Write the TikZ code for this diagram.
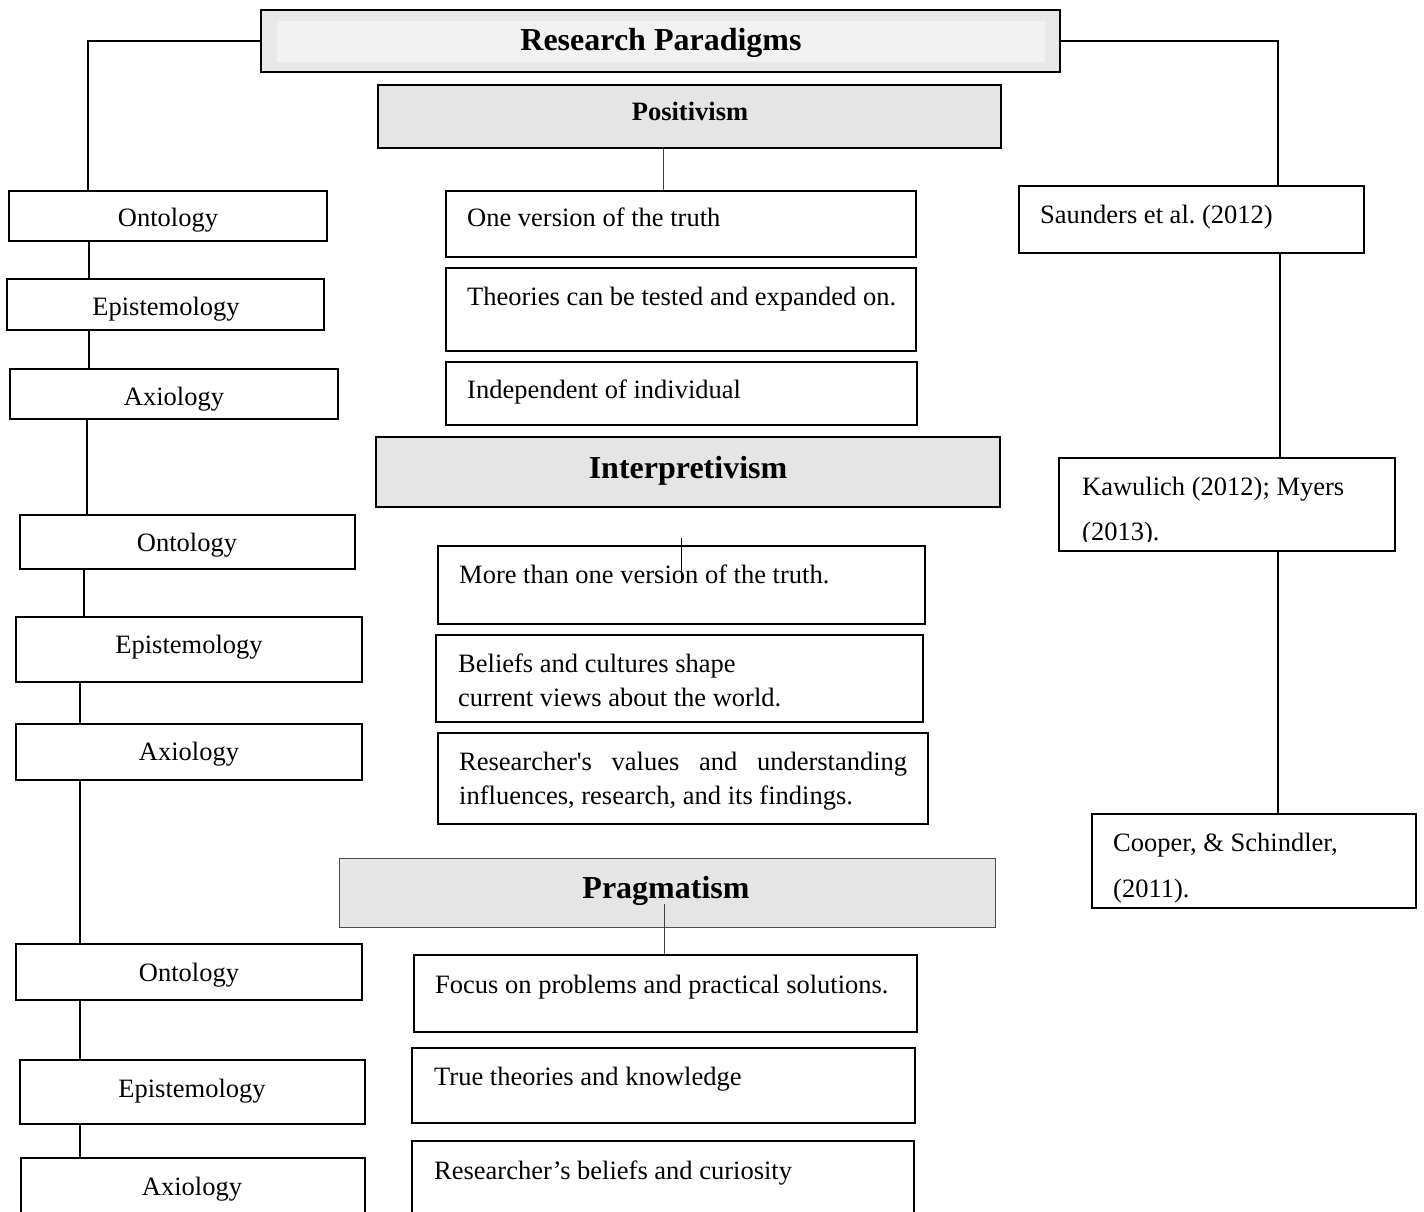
\documentclass[tikz,border=0pt]{standalone}
\usepackage{fontspec}
\setmainfont{Liberation Serif}
\usetikzlibrary{fit}
\begin{document}
\begin{tikzpicture}[
  x=1pt, y=-1pt,
  box/.style={draw=black, line width=1.8pt, fill=white, inner sep=0pt},
  headbox/.style={box, fill=black!10},
  conn/.style={line width=1.8pt},
  thinconn/.style={line width=1pt, draw=black!75},
  txt/.style={inner sep=0pt, yshift=-6pt, font=\fontsize{26.5}{34}\selectfont},
  lbl/.style={txt, anchor=mid},
  ltxt/.style={txt, anchor=mid west},
  bighead/.style={inner sep=0pt, anchor=mid, yshift=-7.5pt, font=\fontsize{32}{38}\selectfont\bfseries},
  smallhead/.style={inner sep=0pt, anchor=mid, yshift=-6.5pt, font=\fontsize{26.5}{32}\selectfont\bfseries},
]
\useasboundingbox[fill=white] (0,0) rectangle (1424,1212);

% column positions of the vertical connectors
\coordinate (lxa) at (88,0);
\coordinate (lxb) at (89,0);
\coordinate (lxc) at (87,0);
\coordinate (lxd) at (84,0);
\coordinate (lxe) at (80,0);
\coordinate (rxa) at (1278,0);
\coordinate (rxb) at (1280,0);

% title
\node[box, line width=2.6pt, fill=black!9, fit={(261,10)(1060,72)}] (title) {};
\node[inner sep=0pt, fill=black!5, minimum width=768pt, minimum height=41pt] (titlein) at (661,41.5) {};
\node[bighead] (titletxt) at (661,41) {Research Paradigms};

% ---------- left column ----------
\node[box, fit={(9,191)(327,241)}] (o1) {};
\node[lbl] (o1t) at (168,218) {Ontology};
\node[box, fit={(7,279)(324,330)}] (e1) {};
\node[lbl] (e1t) at (166,307) {Epistemology};
\node[box, fit={(10,369)(338,419)}] (a1) {};
\node[lbl] (a1t) at (174,397) {Axiology};

\node[box, fit={(20,515)(355,569)}] (o2) {};
\node[lbl] (o2t) at (187,543) {Ontology};
\node[box, fit={(16,617)(362,682)}] (e2) {};
\node[lbl] (e2t) at (189,645) {Epistemology};
\node[box, fit={(16,724)(362,780)}] (a2) {};
\node[lbl] (a2t) at (189,752) {Axiology};

\node[box, fit={(16,944)(362,1000)}] (o3) {};
\node[lbl] (o3t) at (189,973) {Ontology};
\node[box, fit={(20,1060)(365,1124)}] (e3) {};
\node[lbl] (e3t) at (192,1089) {Epistemology};
\node[box, fit={(21,1158)(365,1235)}] (a3) {};
\node[lbl] (a3t) at (192,1187) {Axiology};

\draw[conn] (title.west) -| (o1.north -| lxa);
\draw[conn] (o1.south -| lxb) -- (e1.north -| lxb);
\draw[conn] (e1.south -| lxb) -- (a1.north -| lxb);
\draw[conn] (a1.south -| lxc) -- (o2.north -| lxc);
\draw[conn] (o2.south -| lxd) -- (e2.north -| lxd);
\draw[conn] (e2.south -| lxe) -- (a2.north -| lxe);
\draw[conn] (a2.south -| lxe) -- (o3.north -| lxe);
\draw[conn] (o3.south -| lxe) -- (e3.north -| lxe);
\draw[conn] (e3.south -| lxe) -- (a3.north -| lxe);

% ---------- positivism ----------
\node[headbox, fit={(378,85)(1001,148)}] (pos) {};
\node[smallhead] (post) at (690,112) {Positivism};
\node[box, fit={(446,191)(916,257)}] (p1) {};
\node[ltxt] (p1t) at (467,218) {One version of the truth};
\node[box, fit={(446,268)(916,351)}] (p2) {};
\node[ltxt] (p2t) at (467,297) {Theories can be tested and expanded on.};
\node[box, fit={(446,362)(917,425)}] (p3) {};
\node[ltxt] (p3t) at (467,390) {Independent of individual};
\coordinate (posx) at (663,0);
\draw[thinconn] (pos.south -| posx) -- (p1.north -| posx);

% ---------- interpretivism ----------
\node[headbox, fit={(376,437)(1000,507)}] (int) {};
\node[bighead] (intt) at (688,469) {Interpretivism};
\node[box, fit={(438,546)(925,624)}] (i1) {};
\node[box, fit={(436,635)(923,722)}] (i2) {};
\node[box, fit={(438,733)(928,824)}] (i3) {};
\coordinate (intA) at (681,538);
\coordinate (intB) at (681,582);
\node[ltxt] (i1t) at (459,575) {More than one version of the truth.};
\draw[line width=1pt] (intA) -- (intB);
\node[ltxt] (i2ta) at (458,664) {Beliefs and cultures shape};
\node[ltxt] (i2tb) at (458,698) {current views about the world.};
\node[ltxt] (i3ta) at (459,762) {\makebox[448pt][s]{Researcher\textquotesingle s values and understanding}};
\node[ltxt] (i3tb) at (459,796) {influences, research, and its findings.};

% ---------- pragmatism ----------
\node[headbox, line width=1pt, draw=black!70, fit={(339,858)(995,927)}] (prag) {};
\node[bighead] (pragt) at (666,889) {Pragmatism};
\node[box, fit={(414,955)(917,1032)}] (r1) {};
\node[ltxt] (r1t) at (435,985) {Focus on problems and practical solutions.};
\node[box, fit={(412,1048)(915,1123)}] (r2) {};
\node[ltxt] (r2t) at (434,1077) {True theories and knowledge};
\node[box, fit={(412,1141)(914,1235)}] (r3) {};
\node[ltxt] (r3t) at (434,1171) {Researcher’s beliefs and curiosity};
\coordinate (pragA) at (664,904);
\draw[thinconn] (pragA) -- (r1.north -| pragA);

% ---------- right column ----------
\node[box, fit={(1019,186)(1364,253)}] (sa) {};
\node[ltxt] (sat) at (1040,215) {Saunders et al.\ (2012)};
\node[box, fit={(1059,458)(1395,551)}] (ka) {};
\begin{scope}
  \clip (1059,458) rectangle (1395,541);
  \node[ltxt] (kata) at (1082,487) {Kawulich (2012); Myers};
  \node[ltxt] (katb) at (1082,532) {(2013).};
\end{scope}
\node[box, fit={(1092,814)(1416,908)}] (co) {};
\node[ltxt] (cota) at (1113,843) {Cooper, \& Schindler,};
\node[ltxt] (cotb) at (1113,889) {(2011).};

\draw[conn] (title.east) -| (sa.north -| rxa);
\draw[conn] (sa.south -| rxb) -- (ka.north -| rxb);
\draw[conn] (ka.south -| rxa) -- (co.north -| rxa);
\end{tikzpicture}
\end{document}
